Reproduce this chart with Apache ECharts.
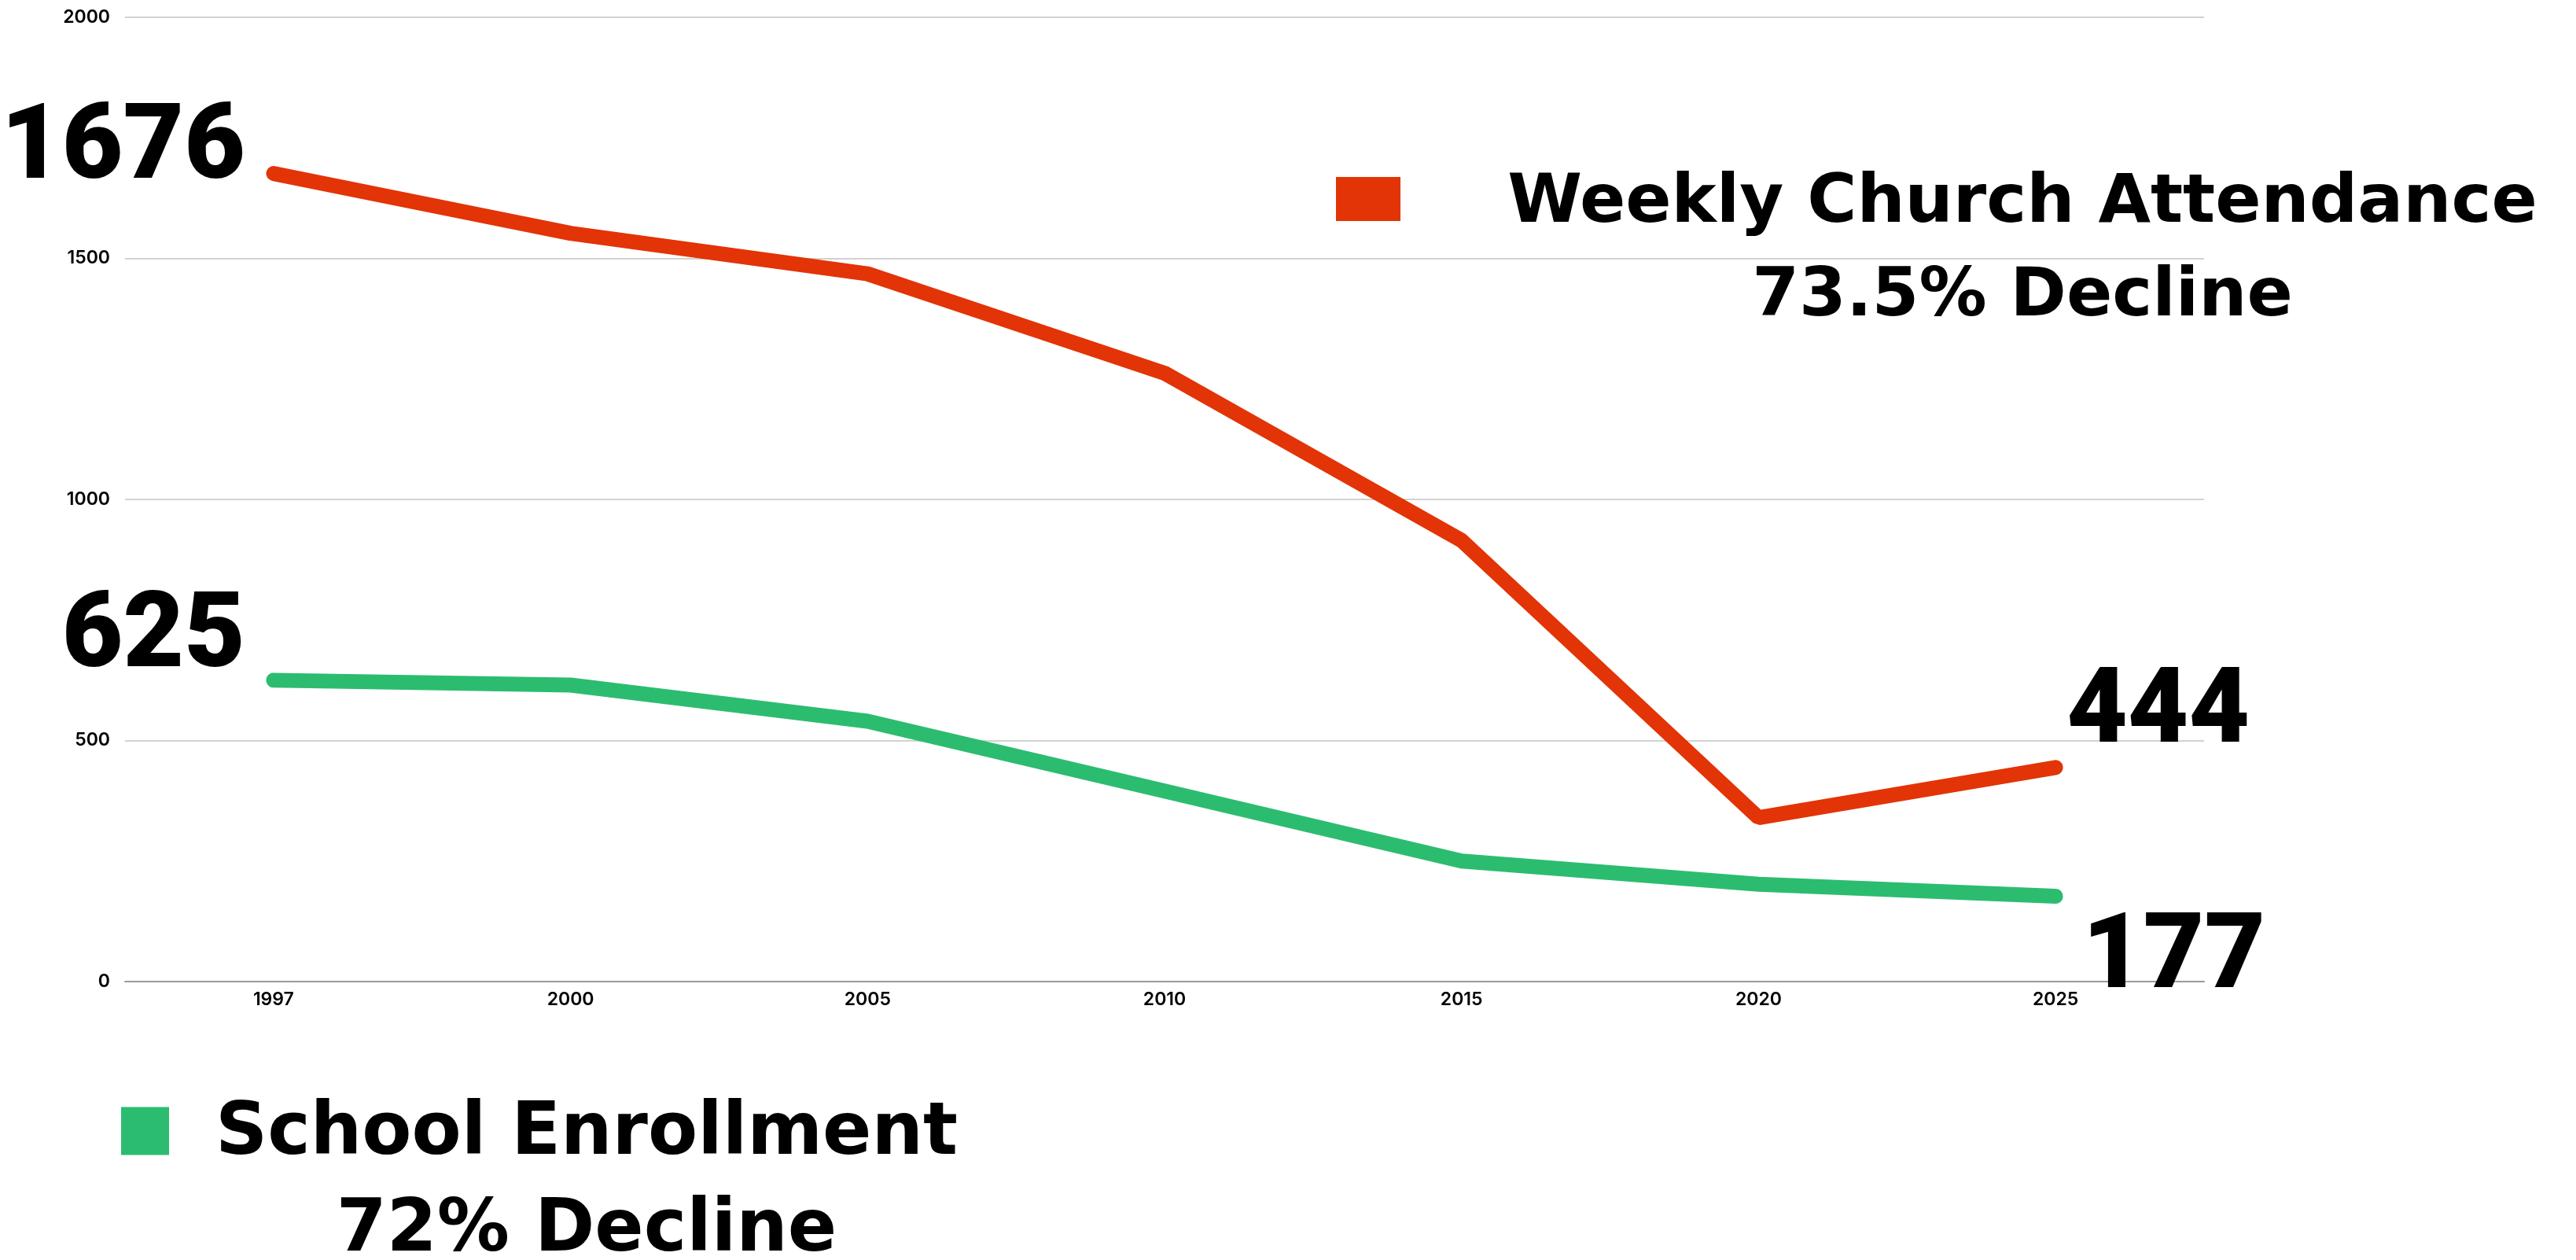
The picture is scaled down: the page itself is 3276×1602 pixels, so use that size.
<!DOCTYPE html>
<html>
<head>
<meta charset="utf-8">
<script src="https://cdn.jsdelivr.net/npm/echarts@6/dist/echarts.min.js"></script>
<style>
html,body{margin:0;padding:0;background:#fff;}
#chart{width:3276px;height:1602px;}
</style>
</head>
<body>
<div id="chart"></div>
<script>
const years = ['1997', '2000', '2005', '2010', '2015', '2020', '2025'];
const churchAttendance = [1676, 1552, 1468, 1262, 915, 340, 444];
const schoolEnrollment = [625, 615, 540, 395, 250, 202, 177];
const yTicks = [0, 500, 1000, 1500, 2000];
const churchName = 'Weekly Church Attendance';
const churchNote = '73.5% Decline';
const schoolName = 'School Enrollment';
const schoolNote = '72% Decline';

const RED = '#E23406';
const GREEN = '#2CBC70';
const NUM_FONT = 'Roboto';
const LEG_FONT = '"DejaVu Sans"';
const bigLabel = { fontFamily: NUM_FONT, fontWeight: 900, fontSize: 134, color: '#000' };

function withEndLabels(values, first, last) {
  return values.map((v, i) => {
    if (i === 0) return { value: v, label: Object.assign({ show: true }, first) };
    if (i === values.length - 1) return { value: v, label: Object.assign({ show: true }, last) };
    return v;
  });
}

const redText = { fontFamily: LEG_FONT, fontWeight: 'bold', fontSize: 86, color: '#000', width: 1572, align: 'center' };
const greenText = { fontFamily: LEG_FONT, fontWeight: 'bold', fontSize: 92, color: '#000', width: 1052, align: 'center' };

const chart = echarts.init(document.getElementById('chart'));
chart.setOption({
  animation: false,
  backgroundColor: '#fff',
  grid: { left: 159, right: 473, top: 22, bottom: 354, containLabel: false },
  xAxis: {
    type: 'category',
    data: years,
    boundaryGap: true,
    axisLine: { show: true, lineStyle: { color: '#9a9a9a', width: 2 } },
    axisTick: { show: false },
    axisLabel: { margin: 12, fontFamily: 'Inter', fontWeight: 600, fontSize: 23, color: '#000' }
  },
  yAxis: {
    type: 'value',
    min: yTicks[0],
    max: yTicks[yTicks.length - 1],
    interval: yTicks[1] - yTicks[0],
    axisLine: { show: false },
    axisTick: { show: false },
    axisLabel: { margin: 19, fontFamily: 'Inter', fontWeight: 600, fontSize: 23, color: '#000',
      formatter: function (v) { return String(v); } },
    splitLine: { show: true, lineStyle: { color: '#d2d2d2', width: 2 } }
  },
  legend: [
    {
      data: [{ name: churchName, icon: 'rect' }],
      left: 1699, top: 91, padding: 0,
      itemWidth: 82, itemHeight: 56, itemGap: 0,
      selectedMode: false,
      formatter: function (n) { return '{e| }\n{t|' + n + '}\n{t|' + churchNote + '}'; },
      textStyle: {
        rich: {
          e: Object.assign({}, redText, { lineHeight: 133 }),
          t: Object.assign({}, redText, { lineHeight: 119 })
        }
      }
    },
    {
      data: [{ name: schoolName, icon: 'rect' }],
      left: 154, top: 1269, padding: 0,
      itemWidth: 61, itemHeight: 61, itemGap: 0,
      selectedMode: false,
      formatter: function (n) { return '{e| }\n{t|' + n + '}\n{t|' + schoolNote + '}'; },
      textStyle: {
        rich: {
          e: Object.assign({}, greenText, { lineHeight: 133 }),
          t: Object.assign({}, greenText, { lineHeight: 123 })
        }
      }
    }
  ],
  series: [
    {
      name: churchName,
      type: 'line',
      data: withEndLabels(churchAttendance,
        Object.assign({ position: 'left', distance: 35, offset: [0, -28] }, bigLabel),
        Object.assign({ position: 'right', distance: 13, offset: [0, -66] }, bigLabel)),
      symbol: 'circle', symbolSize: 2, showSymbol: true,
      itemStyle: { color: RED },
      lineStyle: { color: RED, width: 19, cap: 'round', join: 'bevel' },
      label: { show: false },
      z: 3
    },
    {
      name: schoolName,
      type: 'line',
      data: withEndLabels(schoolEnrollment,
        Object.assign({ position: 'left', distance: 35, offset: [0, -51] }, bigLabel),
        Object.assign({ position: 'right', distance: 33, offset: [0, 82] }, bigLabel)),
      symbol: 'circle', symbolSize: 2, showSymbol: true,
      itemStyle: { color: GREEN },
      lineStyle: { color: GREEN, width: 19, cap: 'round', join: 'bevel' },
      label: { show: false },
      z: 3
    }
  ]
});
</script>
</body>
</html>
